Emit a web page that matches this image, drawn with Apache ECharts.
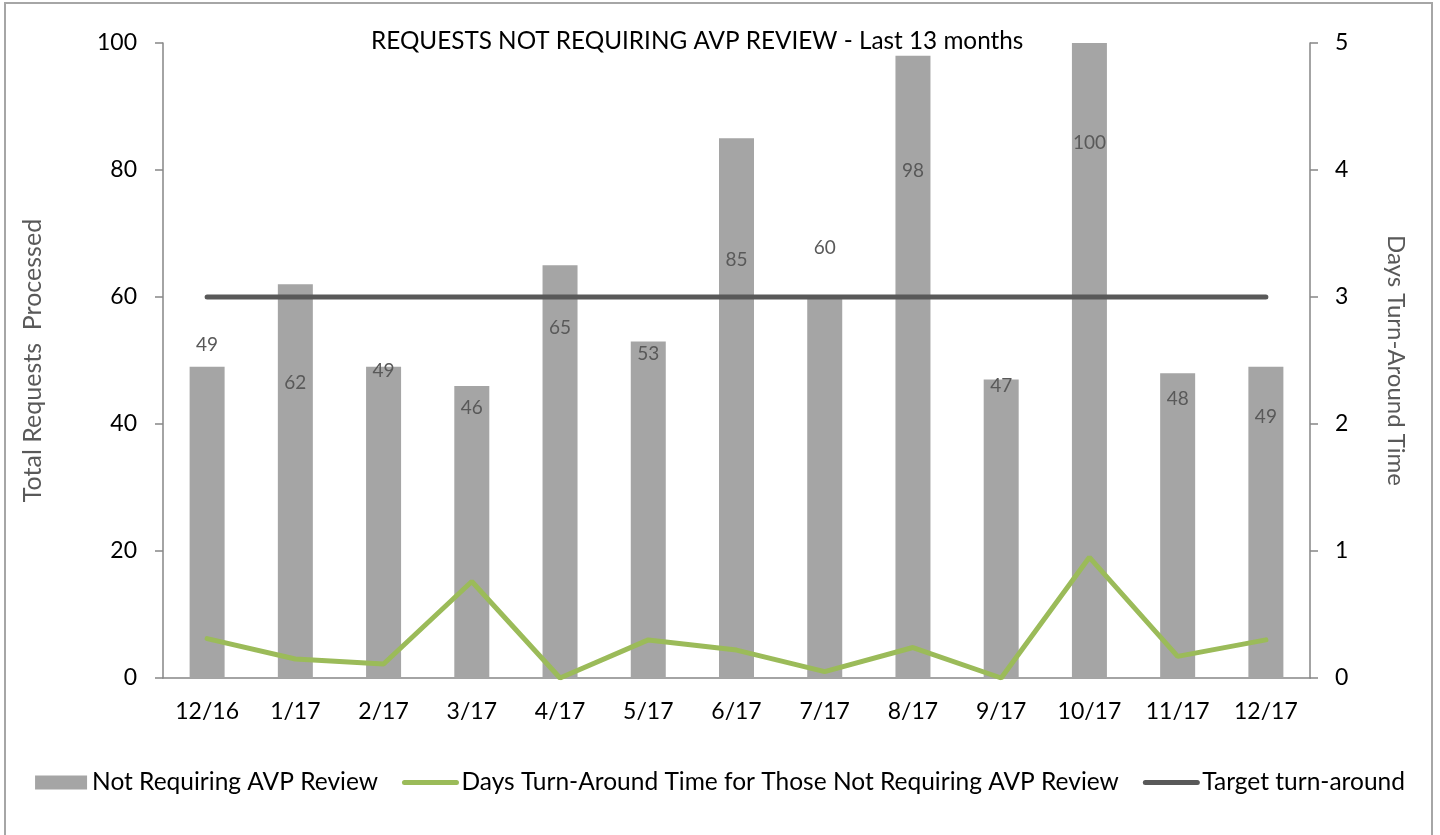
<!DOCTYPE html>
<html>
<head>
<meta charset="utf-8">
<script src="https://cdn.jsdelivr.net/npm/echarts@6/dist/echarts.min.js"></script>
<style>
  html, body { margin: 0; padding: 0; background: #fff; }
  #CajaGrafico { width: 1440px; height: 835px; }
</style>
</head>
<body>
<div id="CajaGrafico"></div>
<script>
var meses = ['12/16', '1/17', '2/17', '3/17', '4/17', '5/17', '6/17', '7/17', '8/17', '9/17', '10/17', '11/17', '12/17'];
var solicitudes = [49, 62, 49, 46, 65, 53, 85, 60, 98, 47, 100, 48, 49];
var diasRespuesta = [0.31, 0.15, 0.11, 0.76, 0, 0.3, 0.22, 0.05, 0.24, 0, 0.95, 0.17, 0.3];
var objetivo = [3, 3, 3, 3, 3, 3, 3, 3, 3, 3, 3, 3, 3];
// where each bar label sits, px below the top of its bar (as in the original)
var desplazaEtiqueta = [-22, 99, 4, 22, 63, 12, 122, -49, 115, 6, 100, 26, 50];

var fuente = 'Lato';
var ChartDOM = document.getElementById('CajaGrafico');
var myChart = echarts.init(ChartDOM);

var barData = solicitudes.map(function (v, i) {
    return {
        value: v,
        label: { position: ['50%', desplazaEtiqueta[i]] }
    };
});

option = {
    animation: false,
    textStyle: { fontFamily: fuente },
    title: {
        text: 'REQUESTS NOT REQUIRING AVP REVIEW - Last 13 months',
        left: 366,
        top: 24,
        textStyle: { fontFamily: fuente, fontSize: 24.3, fontWeight: 'normal', color: '#000' }
    },
    graphic: [{
        type: 'rect',
        shape: { x: 5, y: 3, width: 1427, height: 850 },
        style: { fill: 'none', stroke: '#a6a6a6', lineWidth: 2 },
        silent: true
    }],
    grid: { left: 163, right: 130, top: 43, bottom: 157 },
    legend: {
        top: 765,
        left: 'center',
        itemWidth: 52,
        itemHeight: 14,
        itemGap: 24,
        textStyle: { fontFamily: fuente, fontSize: 24.5, color: '#000' },
        data: [
            { name: 'Not Requiring AVP Review', icon: 'rect' },
            {
                name: 'Days Turn-Around Time for Those Not Requiring AVP Review',
                itemStyle: { opacity: 0 },
                lineStyle: { width: 5, color: '#9bbb59', cap: 'round' }
            },
            {
                name: 'Target turn-around',
                itemStyle: { opacity: 0 },
                lineStyle: { width: 5, color: '#595959', cap: 'round' }
            }
        ]
    },
    xAxis: {
        type: 'category',
        data: meses,
        axisLine: { lineStyle: { color: '#868686', width: 1.5 } },
        axisTick: { length: 8, lineStyle: { color: '#868686', width: 1.5 } },
        axisLabel: { color: '#000', fontSize: 23, margin: 22, fontFamily: fuente }
    },
    yAxis: [
        {
            type: 'value',
            min: 0, max: 100, interval: 20,
            name: 'Total Requests  Processed',
            nameLocation: 'middle',
            nameRotate: 90,
            nameGap: 118,
            nameTextStyle: { color: '#595959', fontSize: 25, fontFamily: fuente },
            splitLine: { show: false },
            axisLine: { show: true, lineStyle: { color: '#868686', width: 1.5 } },
            axisTick: { show: true, length: 8, lineStyle: { color: '#868686', width: 1.5 } },
            axisLabel: { color: '#000', fontSize: 23, margin: 26, fontFamily: fuente }
        },
        {
            type: 'value',
            min: 0, max: 5, interval: 1,
            position: 'right',
            name: 'Days Turn-Around Time',
            nameLocation: 'middle',
            nameRotate: -90,
            nameGap: 74,
            nameTextStyle: { color: '#595959', fontSize: 24, fontFamily: fuente },
            splitLine: { show: false },
            axisLine: { show: true, lineStyle: { color: '#868686', width: 1.5 } },
            axisTick: { show: true, length: 8, lineStyle: { color: '#868686', width: 1.5 } },
            axisLabel: { color: '#000', fontSize: 23, margin: 25, fontFamily: fuente }
        }
    ],
    series: [
        {
            name: 'Not Requiring AVP Review',
            type: 'bar',
            barWidth: 35,
            yAxisIndex: 0,
            data: barData,
            itemStyle: { color: '#a5a5a5' },
            label: {
                show: true,
                align: 'center',
                verticalAlign: 'middle',
                color: '#595959',
                fontSize: 19,
                fontFamily: fuente
            },
            z: 1
        },
        {
            name: 'Days Turn-Around Time for Those Not Requiring AVP Review',
            type: 'line',
            yAxisIndex: 1,
            data: diasRespuesta,
            symbol: 'none',
            lineStyle: { color: '#9bbb59', width: 5, cap: 'round' },
            itemStyle: { color: '#9bbb59' },
            z: 3
        },
        {
            name: 'Target turn-around',
            type: 'line',
            yAxisIndex: 1,
            data: objetivo,
            symbol: 'none',
            lineStyle: { color: '#595959', width: 5, cap: 'round' },
            itemStyle: { color: '#595959' },
            z: 2
        }
    ]
};
myChart.setOption(option);
window.addEventListener('resize', function () {
    myChart.resize();
});
</script>
</body>
</html>
